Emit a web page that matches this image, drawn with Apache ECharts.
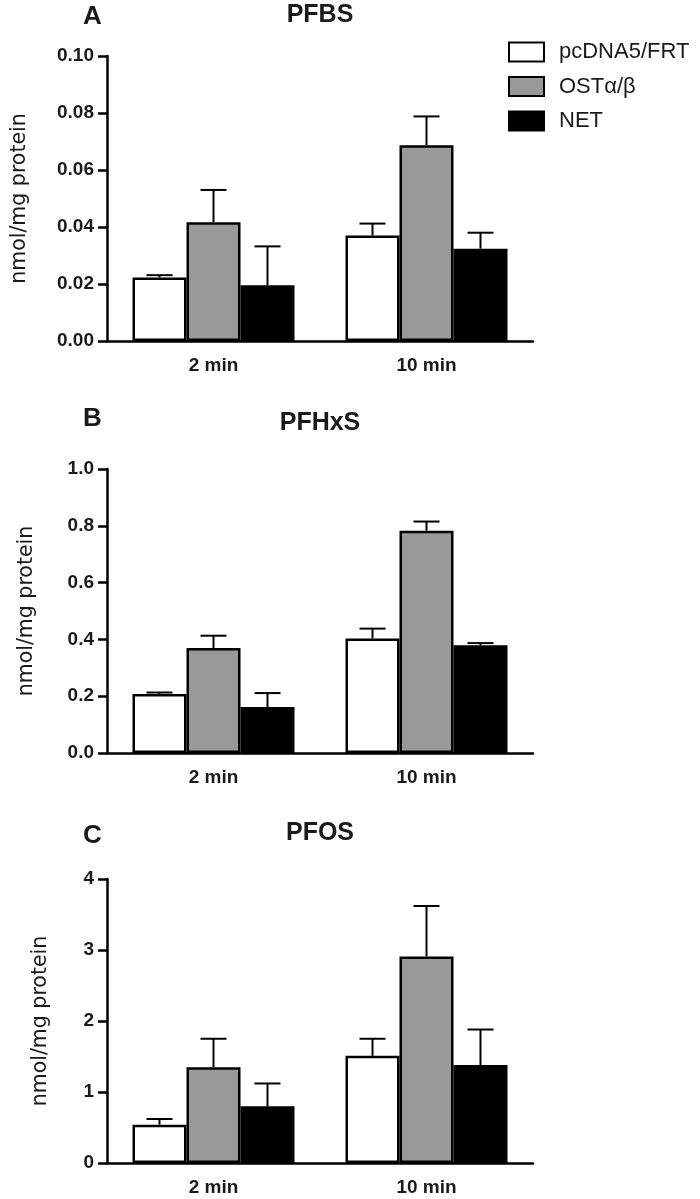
<!DOCTYPE html>
<html>
<head>
<meta charset="utf-8">
<title>PFBS / PFHxS / PFOS uptake</title>
<script src="https://cdn.jsdelivr.net/npm/echarts@6/dist/echarts.min.js"></script>
<style>
	html, body { margin: 0; padding: 0; background: #ffffff; }
	#chart { width: 700px; height: 1199px; }
</style>
</head>
<body>
<div id="chart"></div>
<script>
	// categories and legend names
	var times = ['2 min', '10 min'];
	var groups = ['pcDNA5/FRT', 'OSTα/β', 'NET'];
	var panelLetters = ['A', 'B', 'C'];
	var panelTitles = ['PFBS', 'PFHxS', 'PFOS'];

	// PFBS (nmol/mg protein), mean and error (upper whisker length)
	var pfbsPcdna = [0.0223, 0.0370];
	var pfbsOst = [0.0417, 0.0687];
	var pfbsNet = [0.0196, 0.0324];
	var pfbsPcdnaErr = [0.0008, 0.0042];
	var pfbsOstErr = [0.0113, 0.0101];
	var pfbsNetErr = [0.0136, 0.0056];

	// PFHxS
	var pfhxsPcdna = [0.208, 0.403];
	var pfhxsOst = [0.370, 0.783];
	var pfhxsNet = [0.162, 0.379];
	var pfhxsPcdnaErr = [0.005, 0.035];
	var pfhxsOstErr = [0.043, 0.032];
	var pfhxsNetErr = [0.049, 0.008];

	// PFOS
	var pfosPcdna = [0.54, 1.51];
	var pfosOst = [1.35, 2.91];
	var pfosNet = [0.80, 1.38];
	var pfosPcdnaErr = [0.08, 0.24];
	var pfosOstErr = [0.40, 0.71];
	var pfosNetErr = [0.32, 0.50];

	// y axis scales per panel
	var yMax = [0.10, 1.0, 4];
	var yStep = [0.02, 0.2, 1];
	var yDecimals = [2, 1, 0];

	var means = [
		[pfbsPcdna, pfbsOst, pfbsNet],
		[pfhxsPcdna, pfhxsOst, pfhxsNet],
		[pfosPcdna, pfosOst, pfosNet]
	];
	var errs = [
		[pfbsPcdnaErr, pfbsOstErr, pfbsNetErr],
		[pfhxsPcdnaErr, pfhxsOstErr, pfhxsNetErr],
		[pfosPcdnaErr, pfosOstErr, pfosNetErr]
	];

	var fills = ['#ffffff', '#999999', '#000000'];
	var textColor = '#1a1a1a';
	var barW = 54;
	var capW = 26;

	var gridTops = [56, 469, 879];
	var gridHeights = [285, 284, 284];
	var nameGaps = [77, 70, 56];
	var letterTops = [4, 406, 823];
	var titleTops = [3, 411, 821];

	var grids = [], xAxes = [], yAxes = [], series = [], titles = [];

	for (var p = 0; p < 3; p++) {
		grids.push({
			left: 107, width: 426, top: gridTops[p], height: gridHeights[p],
			containLabel: false, outerBoundsMode: 'none'
		});

		titles.push({
			text: panelLetters[p], left: 83, top: letterTops[p], padding: 0,
			textStyle: { fontFamily: 'Liberation Sans', fontSize: 26, fontWeight: 'bold', color: textColor }
		});
		titles.push({
			text: panelTitles[p], left: 320, textAlign: 'center', top: titleTops[p], padding: 0,
			textStyle: { fontFamily: 'Liberation Sans', fontSize: 25, fontWeight: 'bold', color: textColor }
		});

		xAxes.push({
			type: 'category', gridIndex: p, data: times,
			axisLine: { lineStyle: { color: '#000', width: 2.5 } },
			axisTick: { alignWithLabel: true, length: 9, lineStyle: { color: '#000', width: 2.5 } },
			axisLabel: { margin: 15, fontFamily: 'Liberation Sans', fontSize: 19, fontWeight: 'bold', color: textColor }
		});

		(function(dec) {
			yAxes.push({
				type: 'value', gridIndex: p, min: 0, max: yMax[p], interval: yStep[p],
				name: 'nmol/mg protein', nameLocation: 'middle', nameGap: nameGaps[p],
				nameTextStyle: { fontFamily: 'DejaVu Sans', fontSize: 20.5, color: textColor },
				axisLine: { show: true, lineStyle: { color: '#000', width: 2.5 } },
				axisTick: { show: true, length: 9, lineStyle: { color: '#000', width: 2.5 } },
				splitLine: { show: false },
				axisLabel: {
					margin: 13, fontFamily: 'Liberation Sans', fontSize: 19, fontWeight: 'bold', color: textColor,
					formatter: function(v) { return v.toFixed(dec); }
				}
			});
		})(yDecimals[p]);

		for (var g = 0; g < 3; g++) {
			series.push({
				name: groups[g], type: 'bar', xAxisIndex: p, yAxisIndex: p,
				data: means[p][g], barWidth: barW, barGap: '0%',
				itemStyle: { color: fills[g], borderColor: '#000', borderWidth: 2.5 },
				z: 2
			});

			// error bar (upper whisker only) for this group
			var errData = [];
			for (var i = 0; i < times.length; i++) {
				errData.push([i, means[p][g][i], errs[p][g][i]]);
			}
			(function(off) {
				series.push({
					type: 'custom', xAxisIndex: p, yAxisIndex: p, z: 3,
					data: errData,
					renderItem: function(params, api) {
						var base = api.coord([api.value(0), api.value(1)]);
						var top = api.coord([api.value(0), api.value(1) + api.value(2)]);
						var x = base[0] + off * barW;
						var st = { stroke: '#000', lineWidth: 2 };
						return {
							type: 'group',
							children: [
								{ type: 'line', shape: { x1: x, y1: base[1], x2: x, y2: top[1] }, style: st },
								{ type: 'line', shape: { x1: x - capW / 2, y1: top[1], x2: x + capW / 2, y2: top[1] }, style: st }
							]
						};
					}
				});
			})(g - 1);
		}
	}

	var chart = echarts.init(document.getElementById('chart'));
	chart.setOption({
		animation: false,
		backgroundColor: '#ffffff',
		title: titles,
		legend: {
			data: groups, orient: 'vertical', left: 508, top: 41, padding: 0,
			itemWidth: 35, itemHeight: 19, itemGap: 12.5, icon: 'rect',
			selectedMode: false,
			textStyle: { fontFamily: 'Liberation Sans', fontSize: 22, color: textColor, padding: [0, 0, 0, 10] }
		},
		grid: grids,
		xAxis: xAxes,
		yAxis: yAxes,
		series: series
	});
</script>
</body>
</html>
